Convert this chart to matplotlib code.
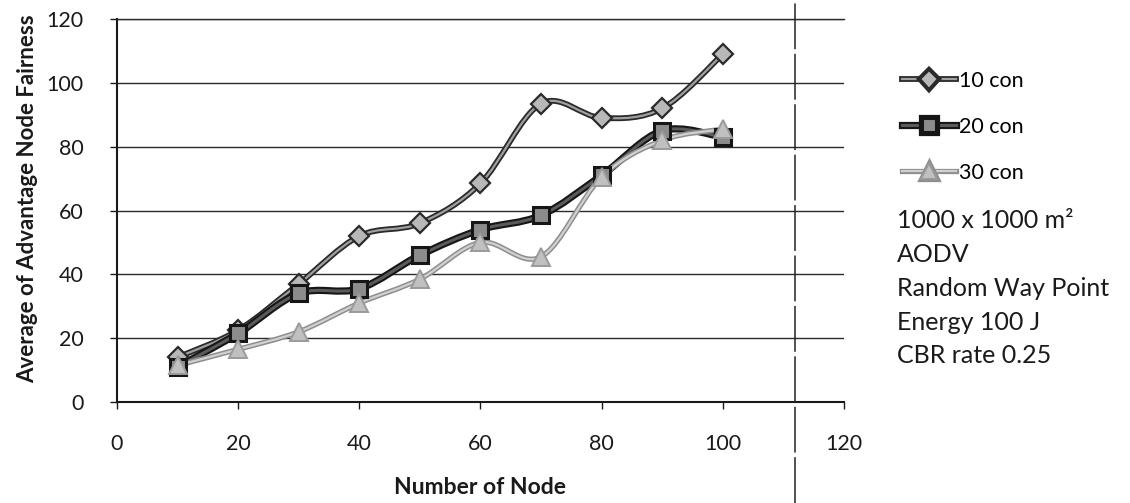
import matplotlib
matplotlib.use("Agg")
import matplotlib.pyplot as plt
import matplotlib.patheffects as pe
from matplotlib.path import Path
from matplotlib.patches import PathPatch
from matplotlib.lines import Line2D

plt.rcParams['font.family'] = ['Lato', 'DejaVu Sans']

# values
nodes = [10, 20, 30, 40, 50, 60, 70, 80, 90, 100]
con10 = [14, 22.5, 37, 52, 56, 68.5, 93.5, 89, 92, 109]
con20 = [11, 21.5, 34, 35.5, 46, 54, 58.5, 71, 85, 83]
con30 = [11.5, 16.5, 22, 31, 38.5, 50, 45.5, 70.5, 82, 85.5]
labels = ['10 con', '20 con', '30 con']
notes = ['1000 x 1000 m\u00b2', 'AODV', 'Random Way Point', 'Energy 100 J', 'CBR rate 0.25']


def smooth_path(x, y):
    # Excel style smoothed line: cubic bezier segments through every point
    verts = [(x[0], y[0])]
    codes = [Path.MOVETO]
    n = len(x)
    for i in range(n - 1):
        x0, y0 = (x[i - 1], y[i - 1]) if i > 0 else (x[i], y[i])
        x3, y3 = (x[i + 2], y[i + 2]) if i + 2 < n else (x[i + 1], y[i + 1])
        c1 = (x[i] + (x[i + 1] - x0) / 6, y[i] + (y[i + 1] - y0) / 6)
        c2 = (x[i + 1] - (x3 - x[i]) / 6, y[i + 1] - (y3 - y[i]) / 6)
        verts += [c1, c2, (x[i + 1], y[i + 1])]
        codes += [Path.CURVE4] * 3
    return Path(verts, codes)


styles = [
    dict(core='#a0a0a0', cw=1.6, edge='#2a2a2a', ew=4.2, marker='D', ms=10.5,
         mfc='#b8b8b8', mec='#2a2a2a', mew=1.6),
    dict(core='#5a5a5a', cw=2.2, edge='#161616', ew=5.2, marker='s', ms=11,
         mfc='#8c8c8c', mec='#161616', mew=2.2),
    dict(core='#d0d0d0', cw=1.6, edge='#8e8e8e', ew=3.8, marker='^', ms=13,
         mfc='#c0c0c0', mec='#9a9a9a', mew=1.4),
]

fig = plt.figure(figsize=(11.3, 5.03), dpi=100)
ax = fig.add_axes([0.1035, 0.2008, 0.6434, 0.7614])

handles = []
for ys, st, lab in zip([con10, con20, con30], styles, labels):
    patch = PathPatch(smooth_path(nodes, ys), fill=False, edgecolor=st['core'],
                      linewidth=st['cw'], zorder=3,
                      path_effects=[pe.Stroke(linewidth=st['ew'], foreground=st['edge']), pe.Normal()])
    ax.add_patch(patch)
    ax.plot(nodes, ys, linestyle='none', marker=st['marker'], markersize=st['ms'],
            markerfacecolor=st['mfc'], markeredgecolor=st['mec'], markeredgewidth=st['mew'], zorder=4)
    h = Line2D([], [], color=st['core'], linewidth=st['cw'], marker=st['marker'],
               markersize=st['ms'] * 0.9, markerfacecolor=st['mfc'], markeredgecolor=st['mec'],
               markeredgewidth=st['mew'],
               path_effects=[pe.Stroke(linewidth=st['ew'], foreground=st['edge']), pe.Normal()])
    handles.append(h)

ax.set_xlim(0, 120)
ax.set_ylim(0, 120)
ax.set_xticks(range(0, 121, 20))
ax.set_yticks(range(0, 121, 20))
ax.yaxis.grid(True, color='#2a2a2a', linewidth=1.0)
ax.set_axisbelow(True)
for s in ['left', 'bottom']:
    ax.spines[s].set_color('#1a1a1a')
    ax.spines[s].set_linewidth(1.5)
ax.spines['top'].set_color('#2a2a2a')
ax.spines['top'].set_linewidth(1.0)
ax.spines['right'].set_visible(False)
ax.tick_params(axis='y', length=5, width=1, pad=19, labelsize=15.5, colors='#1a1a1a')
ax.tick_params(axis='x', length=5, width=1, pad=18, labelsize=15.5, colors='#1a1a1a')

ax.set_ylabel('Average of Advantage Node Fairness', fontsize=16, fontweight='bold', color='#1a1a1a')
ax.yaxis.set_label_coords(-0.108, 0.53)
ax.set_xlabel('Number of Node', fontsize=16.5, fontweight='bold', color='#1a1a1a')
ax.xaxis.set_label_coords(0.5, -0.196)

fig.legend(handles, labels, loc='upper left', bbox_to_anchor=(902 / 1130, 1 - 71 / 503),
           frameon=False, fontsize=15.5, handlelength=2.5, handletextpad=0.15,
           labelspacing=1.2, borderpad=0, borderaxespad=0)

for i, line in enumerate(notes):
    fig.text(897 / 1130, 1 - (221 + 33.7 * i) / 503, line, fontsize=18,
             va='center', ha='left', color='#1a1a1a')

# page border line from the scan
fig.add_artist(Line2D([795 / 1130, 795 / 1130], [0, 1], color='#222222', linewidth=1.1,
                      linestyle=(0, (30, 3))))

fig.savefig('out.png', dpi=100)
